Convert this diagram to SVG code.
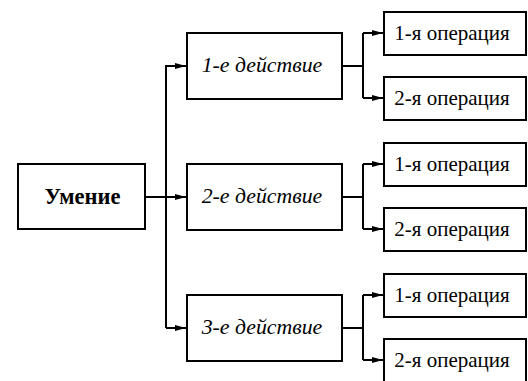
<svg xmlns="http://www.w3.org/2000/svg" width="528" height="381" viewBox="0 0 528 381">
<style>
.box{fill:#fff;stroke:#000;stroke-width:2}
.ln{fill:none;stroke:#000;stroke-width:2}
text{font-family:"Liberation Serif","Times New Roman",serif;fill:#000;text-anchor:middle}
.main{font-size:22.5px;font-weight:bold}
.act{font-size:21.8px;font-style:italic}
.op{font-size:21px}
</style>
<defs>
<marker id="ar" markerWidth="12" markerHeight="8" refX="11" refY="4" orient="auto" markerUnits="userSpaceOnUse">
<path d="M0,1 L11,4 L0,7 Z" fill="#000"/>
</marker>
</defs>
<g id="connectors">
<path class="ln" d="M145,197 H186" marker-end="url(#ar)"/>
<path class="ln" d="M166,328 V66 H186" marker-end="url(#ar)"/>
<path class="ln" d="M166,328 H186" marker-end="url(#ar)"/>
<path class="ln" d="M342,66 H363"/>
<path class="ln" d="M363,33 V98"/>
<path class="ln" d="M363,33 H383" marker-end="url(#ar)"/>
<path class="ln" d="M363,98 H383" marker-end="url(#ar)"/>
<path class="ln" d="M342,197 H363"/>
<path class="ln" d="M363,164 V229"/>
<path class="ln" d="M363,164 H383" marker-end="url(#ar)"/>
<path class="ln" d="M363,229 H383" marker-end="url(#ar)"/>
<path class="ln" d="M342,328 H363"/>
<path class="ln" d="M363,295 V360"/>
<path class="ln" d="M363,295 H383" marker-end="url(#ar)"/>
<path class="ln" d="M363,360 H383" marker-end="url(#ar)"/>
</g>
<g id="skill"><rect class="box" x="18" y="164" width="127" height="65"/><text class="main" x="82.5" y="204">Умение</text></g>
<g id="action1"><rect class="box" x="187" y="33" width="155" height="66"/><text class="act" x="262" y="72">1-е действие</text></g>
<g id="action2"><rect class="box" x="187" y="164" width="155" height="66"/><text class="act" x="262" y="203">2-е действие</text></g>
<g id="action3"><rect class="box" x="187" y="295" width="155" height="66"/><text class="act" x="262" y="334">3-е действие</text></g>
<g id="op1-1"><rect class="box" x="384" y="12" width="142" height="43"/><text class="op" x="452" y="40">1-я операция</text></g>
<g id="op1-2"><rect class="box" x="384" y="77" width="142" height="43"/><text class="op" x="452" y="105">2-я операция</text></g>
<g id="op2-1"><rect class="box" x="384" y="143" width="142" height="43"/><text class="op" x="452" y="171">1-я операция</text></g>
<g id="op2-2"><rect class="box" x="384" y="208" width="142" height="43"/><text class="op" x="452" y="236">2-я операция</text></g>
<g id="op3-1"><rect class="box" x="384" y="274" width="142" height="43"/><text class="op" x="452" y="302">1-я операция</text></g>
<g id="op3-2"><rect class="box" x="384" y="339" width="142" height="43"/><text class="op" x="452" y="367">2-я операция</text></g>
</svg>
